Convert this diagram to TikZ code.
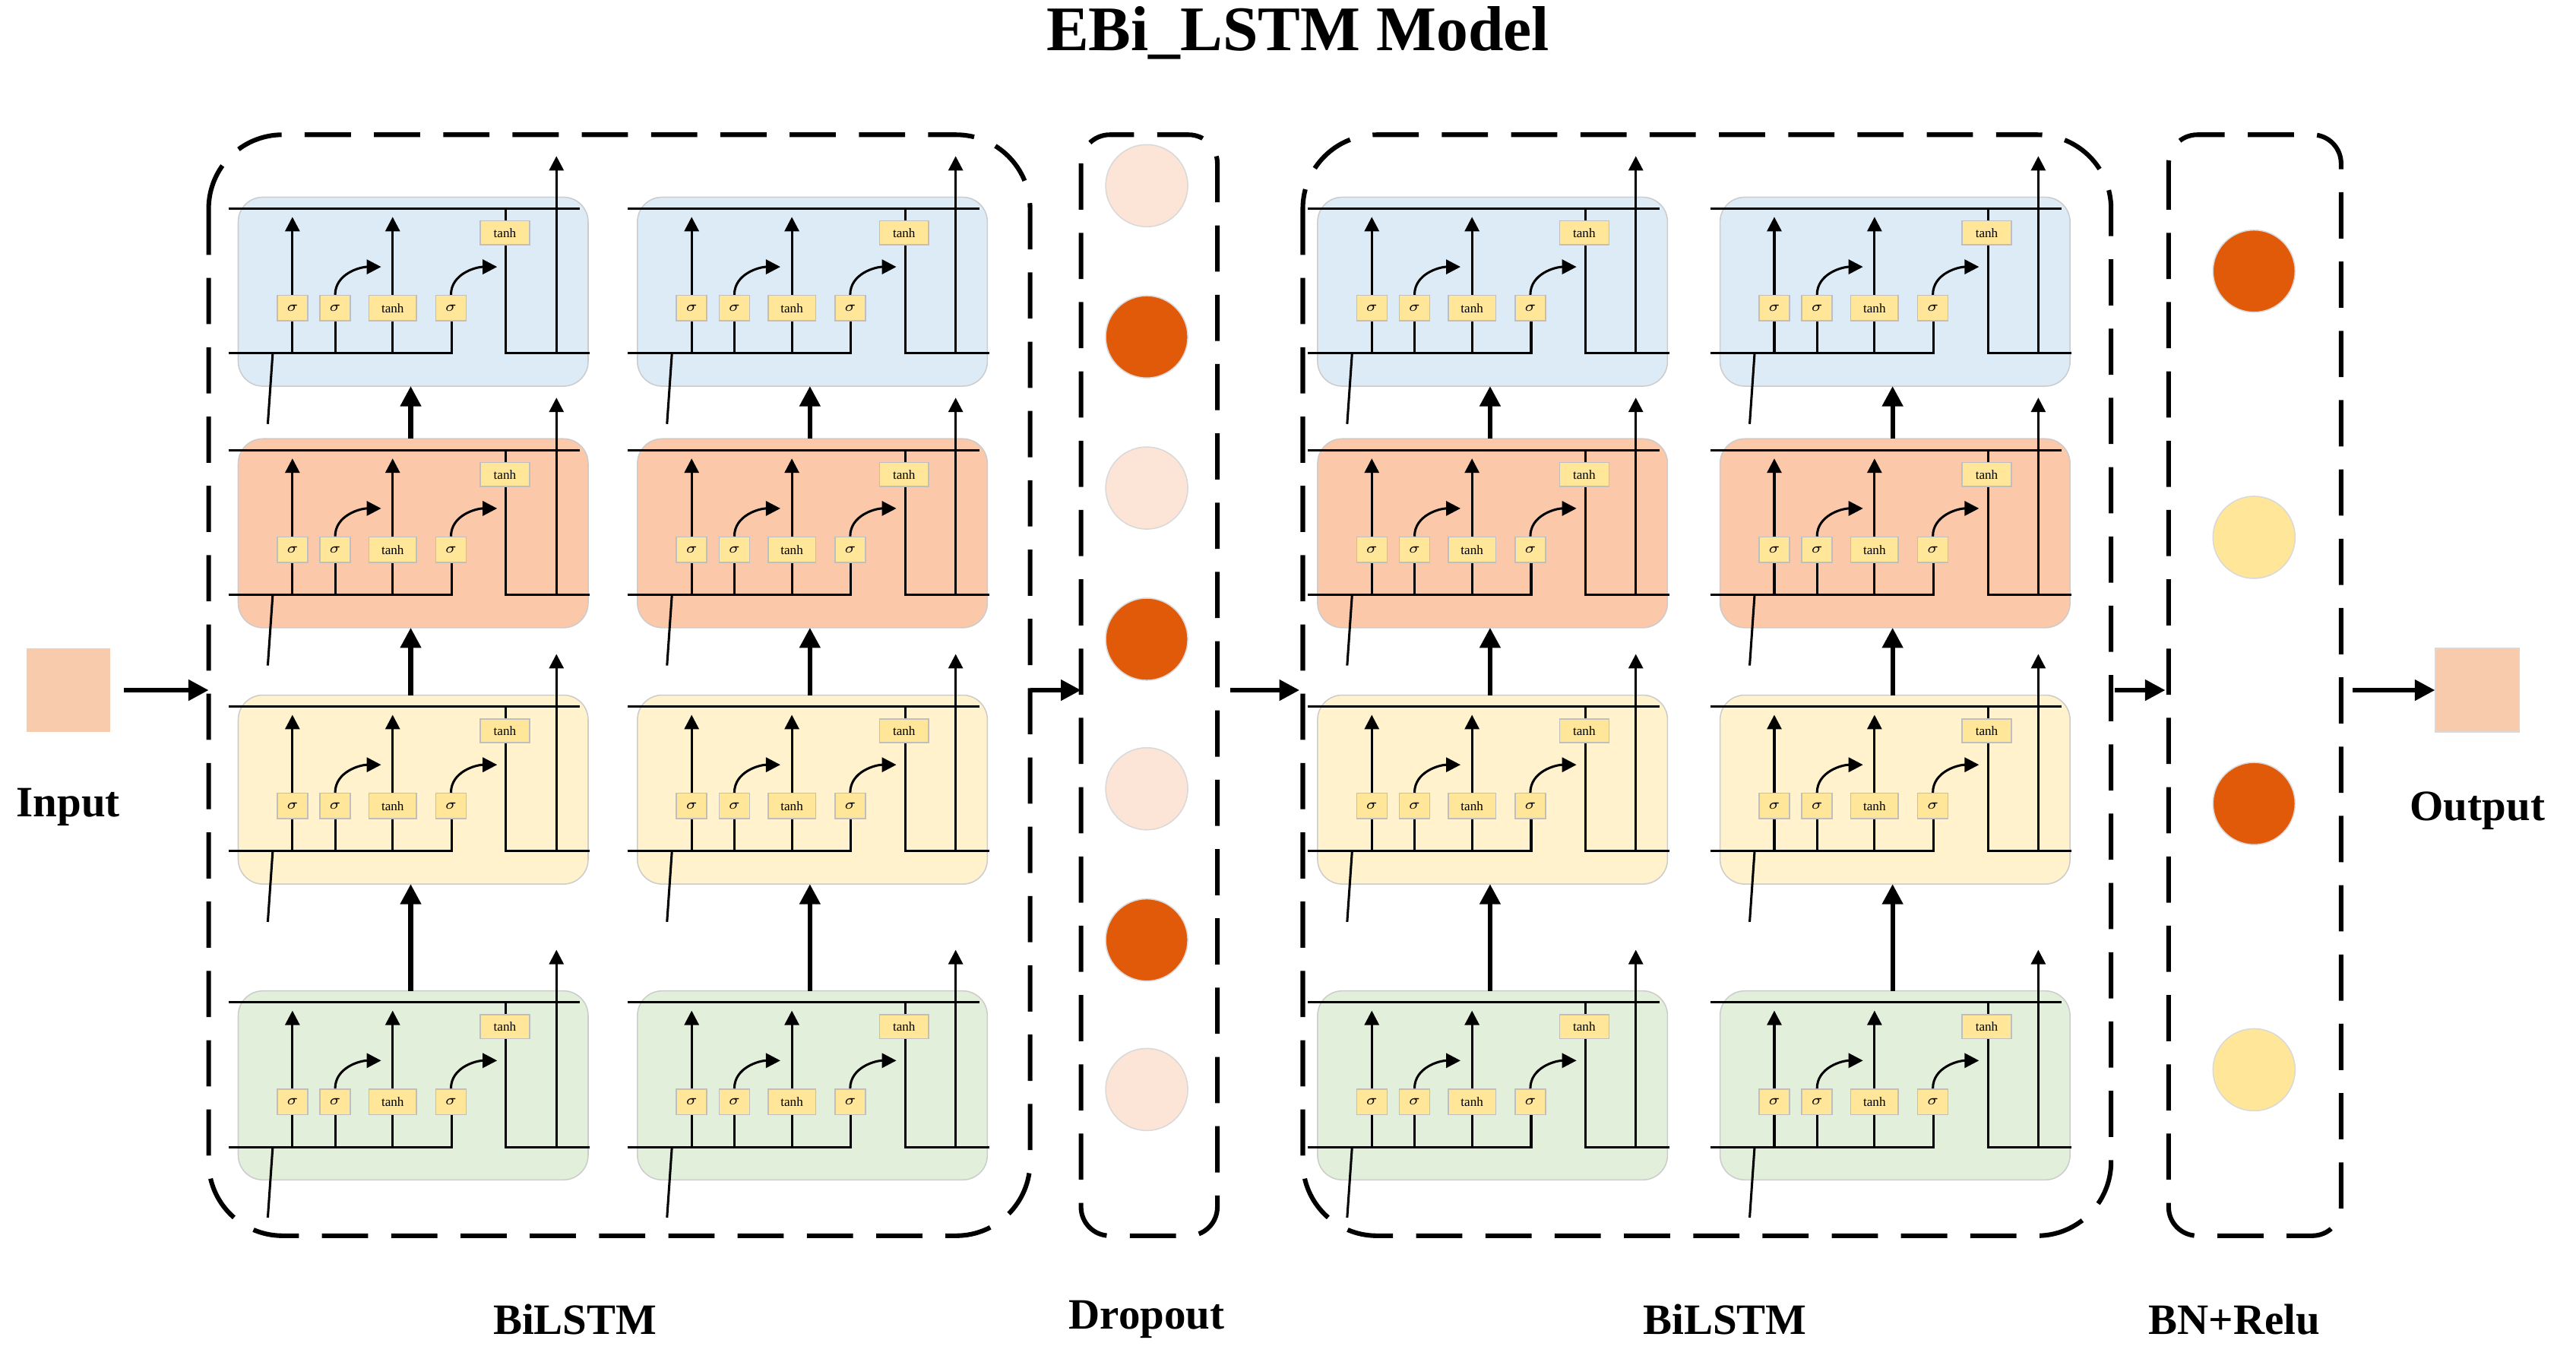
\documentclass[tikz,border=0pt]{standalone}
\usepackage{fontspec}
\setmainfont{Liberation Serif}
\usetikzlibrary{arrows.meta,positioning,calc}
\definecolor{cellblue}{HTML}{DDEBF7}
\definecolor{cellred}{HTML}{FBC8AA}
\definecolor{cellyel}{HTML}{FFF2CC}
\definecolor{cellgreen}{HTML}{E2EFDA}
\definecolor{gatefill}{HTML}{FFE699}
\definecolor{dotdark}{HTML}{E05A0A}
\definecolor{dotlight}{HTML}{FCE4D6}
\definecolor{dotyel}{HTML}{FFE699}
\definecolor{inbox}{HTML}{F8CBAD}
\tikzset{
	gate/.style={rectangle, draw=black!25, fill=gatefill, inner sep=0pt,
		minimum height=0.31cm, minimum width=0.37cm, font=\fontsize{4.5}{5}\selectfont},
	wgate/.style={gate, minimum width=0.58cm},
	cellbox/.style={rounded corners=0.3cm, draw=black!20},
	wire/.style={thick},
	flow/.style={-{Triangle[length=5pt,width=5pt]}, thick},
	link/.style={-{Triangle[length=7pt,width=7pt]}, line width=1.6pt},
	frame/.style={draw, line width=1.6pt, dash pattern=on 16pt off 8pt, rounded corners=0.9cm},
	dot/.style={circle, draw=black!15, minimum size=1cm, inner sep=0pt},
	label/.style={font=\bfseries\fontsize{15}{17}\selectfont}
}
% one LSTM cell, #1 = origin (upper left corner), #2 = fill, #3 = name
\newcommand{\lstmcell}[3]{
	\begin{scope}[shift={#1}]
		\draw[cellbox, fill=#2] (0,0) rectangle (213,115);
		\coordinate (#3-top) at (105,0);
		\coordinate (#3-bot) at (105,115);
		\draw[wire] (-6,7) -- (208,7);
		\draw[wire] (-6,95) -- (130,95) -- (130,75);
		\draw[wire] (214,95) -- (163,95) -- (163,7);
		\draw[wire] (21,95) -- (18,138);
		\node[gate] (#3-f) at (33,67.5) {$\sigma$};
		\node[gate] (#3-i) at (59,67.5) {$\sigma$};
		\node[wgate] (#3-g) at (94,67.5) {tanh};
		\node[gate] (#3-o) at (129.5,67.5) {$\sigma$};
		\node[gate, minimum width=0.6cm, minimum height=0.29cm] (#3-c) at (162.3,21.7) {tanh};
		\draw[wire] (33,95) -- (#3-f);
		\draw[wire] (59,95) -- (#3-i);
		\draw[wire] (94,95) -- (#3-g);
		\draw[flow] (#3-f.north) -- (33,12);
		\draw[flow] (#3-g.north) -- (94,12);
		\draw[flow] (#3-i.north) to[out=90,in=180] (87,42.4);
		\draw[flow] (#3-o.north) to[out=90,in=180] (157.6,42.4);
		\draw[flow] (193.7,95) -- (193.7,-25);
	\end{scope}
}
\begin{document}
\begin{tikzpicture}[x=0.02cm, y=-0.02cm]
	\useasboundingbox (0,0) rectangle (1568,827);
	\node[font=\bfseries\fontsize{22}{26}\selectfont] (title) at (790,20) {EBi\_LSTM Model};
	
	% input and output
	\node[fill=inbox, minimum size=1.02cm, inner sep=0pt] (in) at (41.5,420) {};
	\node[label, below=0.55cm of in] (inlab) {Input};
	\node[fill=inbox, draw=black!15, minimum size=1.02cm, inner sep=0pt] (out) at (1508,420) {};
	\node[label, below=0.6cm of out] (outlab) {Output};
	
	% cells
	\foreach \bx/\bn in {145/a,388/b,802/c,1047/d}{
		\lstmcell{(\bx,120)}{cellblue}{\bn4}
		\lstmcell{(\bx,267)}{cellred}{\bn3}
		\lstmcell{(\bx,423)}{cellyel}{\bn2}
		\lstmcell{(\bx,603)}{cellgreen}{\bn1}
		\draw[link] (\bn1-top) -- (\bn2-bot);
		\draw[link] (\bn2-top) -- (\bn3-bot);
		\draw[link] (\bn3-top) -- (\bn4-bot);
	}
	
	% frames
	\draw[frame] (127,82) rectangle (627,752);
	\draw[frame, rounded corners=0.35cm] (658,82) rectangle (741,752);
	\draw[frame] (793,82) rectangle (1285,752);
	\draw[frame, rounded corners=0.35cm] (1320,82) rectangle (1425,752);
	\coordinate (f1w) at (127,420);
	\coordinate (f1e) at (627,420);
	\coordinate (f2w) at (658,420);
	\coordinate (f2e) at (749,420);
	\coordinate (f3w) at (791,420);
	\coordinate (f3e) at (1287,420);
	\coordinate (f4w) at (1318,420);
	\coordinate (f4e) at (1432,420);
	
	% dropout and bn units
	\foreach \y/\c [count=\i] in {113/dotlight,205/dotdark,297/dotlight,389/dotdark,480/dotlight,572/dotdark,663/dotlight}
		\node[dot, fill=\c] (drop\i) at (698,\y) {};
	\foreach \y/\c [count=\i] in {165/dotdark,327/dotyel,489/dotdark,651/dotyel}
		\node[dot, fill=\c] (bn\i) at (1372,\y) {};
	
	% connections between stages
	\draw[link] ([xshift=0.16cm]in.east) -- (f1w);
	\draw[link] (f1e) -- (f2w);
	\draw[link] (f2e) -- (f3w);
	\draw[link] (f3e) -- (f4w);
	\draw[link] (f4e) -- (out.west);
	
	% stage labels
	\node[label] (l1) at (350,803) {BiLSTM};
	\node[label] (l2) at (698,803) {Dropout};
	\node[label] (l3) at (1050,803) {BiLSTM};
	\node[label] (l4) at (1360,803) {BN+Relu};
\end{tikzpicture}
\end{document}
